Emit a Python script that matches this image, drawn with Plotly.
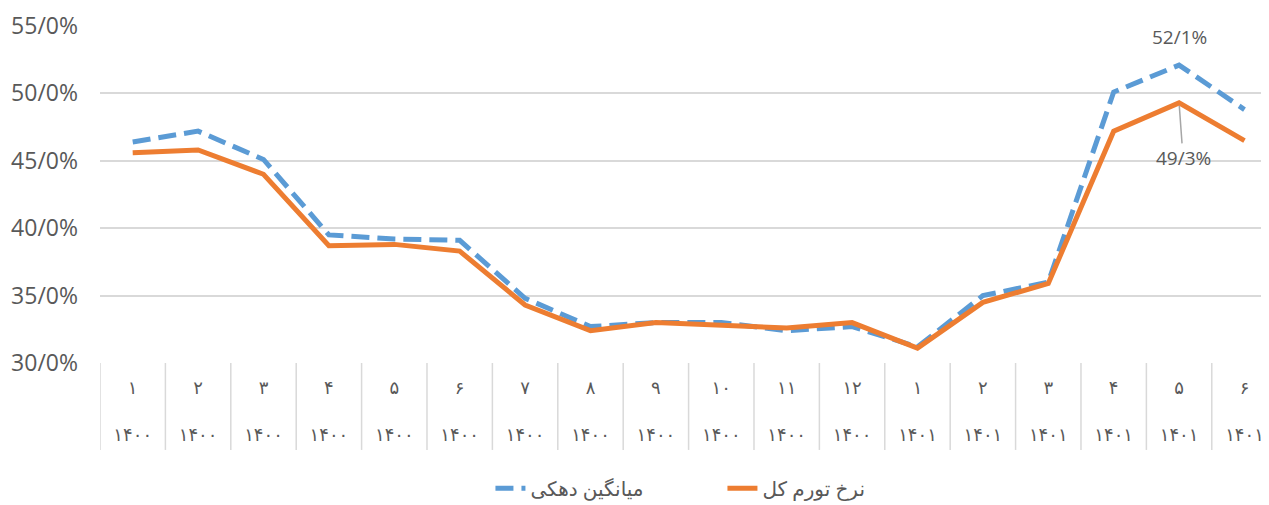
import numpy as np
import plotly.graph_objects as go

# months (persian digits) and years
months = ["۱", "۲", "۳", "۴", "۵", "۶", "۷", "۸", "۹", "۱۰", "۱۱", "۱۲",
          "۱", "۲", "۳", "۴", "۵", "۶"]
years = ["۱۴۰۰"] * 12 + ["۱۴۰۱"] * 6

# average of deciles (dashed blue)
decile_avg = [46.4, 47.2, 45.1, 39.5, 39.2, 39.1, 34.8, 32.7, 33.0, 33.0, 32.4, 32.7,
              31.2, 35.0, 36.0, 50.1, 52.1, 48.8]
# total inflation rate (orange)
total_rate = [45.6, 45.8, 44.0, 38.7, 38.8, 38.3, 34.3, 32.4, 33.0, 32.8, 32.6, 33.0,
              31.1, 34.5, 35.9, 47.2, 49.3, 46.5]

y_ticks = [30, 35, 40, 45, 50, 55]

def fa_pct(v):
    return f"{v:.1f}".replace(".", "/") + "%"

xs = list(range(len(months)))
tick_text = [m + "<br><br>" + y for m, y in zip(months, years)]

grey = "#595959"
fig = go.Figure()

fig.add_trace(go.Scatter(x=xs, y=decile_avg, mode="lines", name="میانگین دهکی",
                         line=dict(color="#5B9BD5", width=5, dash="18px,8px")))
fig.add_trace(go.Scatter(x=xs, y=total_rate, mode="lines", name="نرخ تورم کل",
                         line=dict(color="#ED7D31", width=5)))

# peak labels
pk = int(np.argmax(decile_avg))
fig.add_annotation(x=pk, y=decile_avg[pk], text=fa_pct(decile_avg[pk]), showarrow=False,
                   yshift=28, font=dict(size=19, color=grey))
pk2 = int(np.argmax(total_rate))
fig.add_annotation(x=pk2, y=total_rate[pk2], text=fa_pct(total_rate[pk2]), showarrow=True,
                   arrowhead=0, arrowwidth=1.5, arrowcolor="#a6a6a6", ax=4, ay=55,
                   standoff=3, font=dict(size=19, color=grey))

# category separators below the axis
for b in np.arange(len(months) + 1) - 0.5:
    fig.add_shape(type="line", xref="x", yref="paper", x0=b, x1=b, y0=0, y1=-0.258,
                  line=dict(color="#d9d9d9", width=1.5), layer="below")

fig.update_layout(
    width=1261, height=497,
    margin=dict(l=92, r=0, t=18, b=142, autoexpand=False),
    paper_bgcolor="white", plot_bgcolor="white",
    font=dict(family="Open Sans, DejaVu Sans", color=grey),
    showlegend=True,
    legend=dict(orientation="h", x=0.334, xanchor="left", y=-0.372, yanchor="middle",
                font=dict(size=20, color=grey), entrywidth=187),
)
fig.update_xaxes(range=[-0.5, 17.375], tickvals=xs, ticktext=tick_text, ticks="",
                 showgrid=False, zeroline=False, showline=False, automargin=False,
                 ticklabelstandoff=12,
                 tickfont=dict(size=18, color=grey, family="DejaVu Sans"))
fig.update_yaxes(range=[30, 55], tickvals=y_ticks, ticktext=[fa_pct(v) for v in y_ticks],
                 showgrid=True, gridcolor="#d9d9d9", gridwidth=1.5, zeroline=False,
                 automargin=False,
                 ticks="", ticklabelstandoff=21, tickfont=dict(size=23, color=grey))

fig.write_html("out.html")
